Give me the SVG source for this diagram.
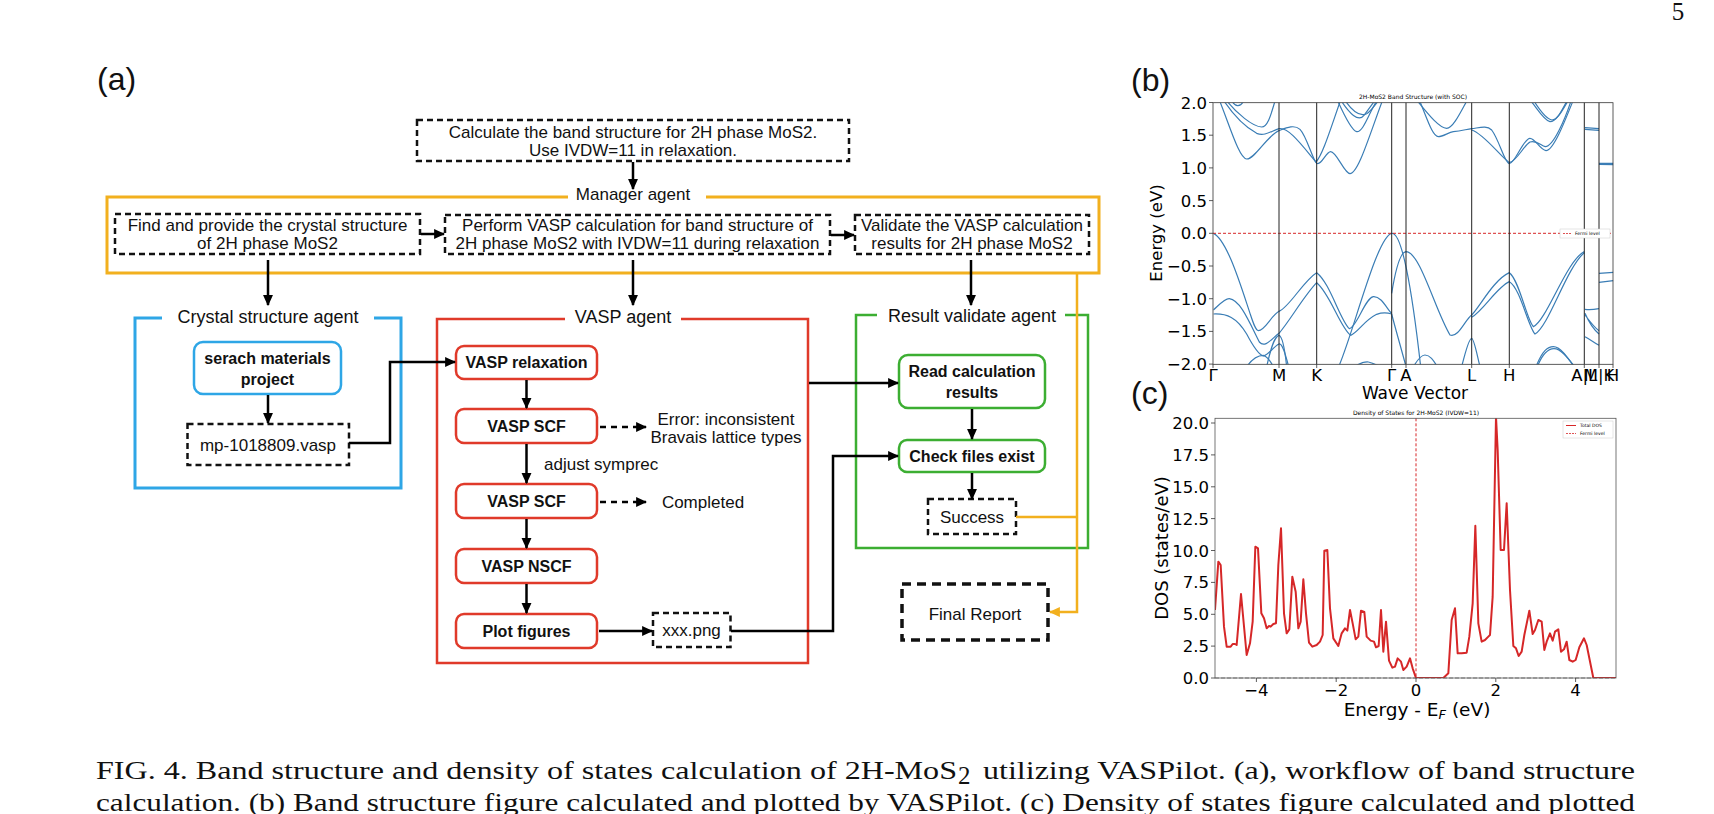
<svg xmlns="http://www.w3.org/2000/svg" width="1714" height="814" viewBox="0 0 1714 814">
<defs>
<style>
.t{font-family:"Liberation Sans",Arial,Helvetica,sans-serif;font-size:17px;fill:#111;text-anchor:middle}
.b{font-weight:bold;font-size:16px}
.lab{font-size:18px}
.pl{font-family:"Liberation Sans",Arial,sans-serif;font-size:32px;fill:#111}
.dash{fill:none;stroke:#111;stroke-width:2.5;stroke-dasharray:6 4}
.arr{fill:none;stroke:#000;stroke-width:2.5;marker-end:url(#ah)}
.darr{fill:none;stroke:#000;stroke-width:2.5;stroke-dasharray:6 5;marker-end:url(#ah)}
.oarr{fill:none;stroke:#f2b01e;stroke-width:2.5}
.rb{fill:#fff;stroke:#e03a2a;stroke-width:2.5}
.gb{fill:#fff;stroke:#3cae32;stroke-width:2.5}
.bb{fill:#fff;stroke:#2ea6e6;stroke-width:2.5}
.m{font-family:"DejaVu Sans",sans-serif;fill:#000}
.tk{font-size:16.5px}
.yl{text-anchor:end}
.xl{text-anchor:middle}
.band{fill:none;stroke:#3a7db5;stroke-width:1.2;vector-effect:non-scaling-stroke}
.vl{stroke:#222;stroke-width:1}
.tick{stroke:#333;stroke-width:0.8}
.cap{font-family:"Liberation Serif","Times New Roman",serif;font-size:25px;fill:#111}
</style>
<marker id="ah" viewBox="0 0 10 10" refX="9" refY="5" markerWidth="11" markerHeight="11" markerUnits="userSpaceOnUse" orient="auto"><path d="M0,0.5 L10,5 L0,9.5 z" fill="#000"/></marker>
<marker id="aho" viewBox="0 0 10 10" refX="9" refY="5" markerWidth="11" markerHeight="11" markerUnits="userSpaceOnUse" orient="auto"><path d="M0,0.5 L10,5 L0,9.5 z" fill="#f2b01e"/></marker>
<clipPath id="clipB"><rect x="340" y="68" width="1200" height="785"/></clipPath>
<clipPath id="clipD"><rect x="345" y="145" width="1203" height="779"/></clipPath>
</defs>
<rect width="1714" height="814" fill="#fff"/>

<text x="1678" y="20" class="cap" font-size="19" text-anchor="middle">5</text>
<text x="97" y="90" class="pl">(a)</text>
<text x="1131" y="91" class="pl">(b)</text>
<text x="1131" y="404" class="pl">(c)</text>

<!-- Flowchart nodes -->
<g id="n-task"><rect x="417" y="120" width="432" height="41" class="dash"/>
<text x="633" y="138" class="t">Calculate the band structure for 2H phase MoS2.</text>
<text x="633" y="156" class="t">Use IVDW=11 in relaxation.</text></g>

<g id="manager-agent"><path d="M568,197 H107 V273 H1099 V197 H706" fill="none" stroke="#f2b01e" stroke-width="3"/>
<text x="633" y="200" class="t">Manager agent</text></g>

<g id="n-find"><rect x="115" y="214" width="305" height="40" class="dash"/>
<text x="267.5" y="231" class="t">Find and provide the crystal structure</text>
<text x="267.5" y="249" class="t">of 2H phase MoS2</text></g>

<g id="n-perform"><rect x="445" y="215" width="385" height="39" class="dash"/>
<text x="637.5" y="231" class="t">Perform VASP calculation for band structure of</text>
<text x="637.5" y="249" class="t">2H phase MoS2 with IVDW=11 during relaxation</text></g>

<g id="n-validate"><rect x="855" y="215" width="234" height="39" class="dash"/>
<text x="972" y="231" class="t">Validate the VASP calculation</text>
<text x="972" y="249" class="t">results for 2H phase MoS2</text></g>

<g id="crystal-agent"><path d="M162,318 H135 V488 H401 V318 H374" fill="none" stroke="#2ea6e6" stroke-width="3"/>
<text x="268" y="323" class="t lab">Crystal structure agent</text></g>

<g id="n-search"><rect x="194" y="342" width="147" height="52" rx="9" class="bb"/>
<text x="267.5" y="364" class="t b">serach materials</text>
<text x="267.5" y="385" class="t b">project</text></g>

<g id="n-mp"><rect x="187.5" y="424" width="161.5" height="41" class="dash"/>
<text x="268" y="451" class="t">mp-1018809.vasp</text></g>

<g id="vasp-agent"><path d="M565,319 H437 V663 H808 V319 H681" fill="none" stroke="#e03a2a" stroke-width="2.5"/>
<text x="623" y="323" class="t lab">VASP agent</text></g>

<g id="n-relax"><rect x="456" y="346" width="141" height="33" rx="8" class="rb"/><text x="526.5" y="368" class="t b">VASP relaxation</text></g>
<g id="n-scf1"><rect x="456" y="409" width="141" height="34" rx="8" class="rb"/><text x="526.5" y="432" class="t b">VASP SCF</text></g>
<g id="n-scf2"><rect x="456" y="484" width="141" height="34" rx="8" class="rb"/><text x="526.5" y="507" class="t b">VASP SCF</text></g>
<g id="n-nscf"><rect x="456" y="549" width="141" height="34" rx="8" class="rb"/><text x="526.5" y="572" class="t b">VASP NSCF</text></g>
<g id="n-plot"><rect x="456" y="614" width="141" height="34" rx="8" class="rb"/><text x="526.5" y="637" class="t b">Plot figures</text></g>

<g id="n-error"><text x="726" y="425" class="t">Error: inconsistent</text><text x="726" y="443" class="t">Bravais lattice types</text></g>
<g id="n-completed"><text x="703" y="508" class="t">Completed</text></g>
<g id="n-xxx"><rect x="653" y="613" width="77.5" height="34" class="dash"/><text x="691.5" y="636" class="t">xxx.png</text></g>

<g id="result-agent"><path d="M877,315 H856 V548 H1088 V315 H1065" fill="none" stroke="#3cae32" stroke-width="2.5"/>
<text x="972" y="322" class="t lab">Result validate agent</text></g>

<g id="n-read"><rect x="899" y="355" width="146" height="53" rx="9" class="gb"/>
<text x="972" y="377" class="t b">Read calculation</text><text x="972" y="398" class="t b">results</text></g>
<g id="n-check"><rect x="899" y="440" width="146" height="32" rx="8" class="gb"/><text x="972" y="462" class="t b">Check files exist</text></g>
<g id="n-success"><rect x="928" y="499" width="88" height="35" class="dash"/><text x="972" y="523" class="t">Success</text></g>
<g id="n-final"><rect x="902" y="584" width="146" height="56" fill="none" stroke="#111" stroke-width="3.5" stroke-dasharray="9 6"/><text x="975" y="620" class="t" font-size="20">Final Report</text></g>

<g id="connectors">
<path d="M633,162 V189" class="arr"/>
<path d="M421,234 H444" class="arr"/>
<path d="M831,235 H854" class="arr"/>
<path d="M268,260 V305" class="arr"/>
<path d="M633,260 V305" class="arr"/>
<path d="M971,260 V305" class="arr"/>
<path d="M268,395 V423" class="arr"/>
<path d="M349,443 H390 V362 H455" class="arr"/>
<path d="M526.5,380 V408" class="arr"/>
<path d="M526.5,444 V483" class="arr"/>
<text x="544" y="470" class="t" style="text-anchor:start">adjust symprec</text>
<path d="M526.5,519 V548" class="arr"/>
<path d="M526.5,584 V613" class="arr"/>
<path d="M600,427 H646" class="darr"/>
<path d="M600,502 H646" class="darr"/>
<path d="M599,631 H652" class="arr"/>
<path d="M731,631 H833 V456 H898" class="arr"/>
<path d="M809,383 H898" class="arr"/>
<path d="M972,409 V439" class="arr"/>
<path d="M972,473 V499" class="arr"/>
<path d="M1016,517 H1077" class="oarr"/>
<path d="M1077,273 V612 H1050" class="oarr" marker-end="url(#aho)"/>
</g>

<!-- (b) band structure -->
<g id="band-plot">
<text x="1413" y="99" class="m" font-size="6" text-anchor="middle" fill="#333">2H-MoS2 Band Structure (with SOC)</text>
<g transform="translate(1100,80) scale(0.3333333)">
<g clip-path="url(#clipB)">
<path class="band" d="M358,60 C390,140 418,236 440,237 C465,238 500,168 537,152 C560,143 583,133 600,148 C620,168 638,240 650,250 C664,258 678,215 692,215 C710,215 733,281 750,281 C775,281 810,160 848,60"/>
<path class="band" d="M370,60 C400,105 430,138 470,160 C495,170 515,152 537,146 C565,140 605,195 648,246 C668,225 692,145 722,60"/>
<path class="band" d="M378,60 C410,100 458,140 485,141 C505,141 515,95 526,60"/>
<path class="band" d="M395,62 C405,80 420,84 432,62"/>
<path class="band" d="M712,60 C738,118 756,152 770,155 C790,158 808,95 832,60"/>
<path class="band" d="M722,60 C748,100 775,128 792,106 C806,88 818,70 826,60"/>
<path class="band" d="M734,60 C760,98 782,110 800,101 C815,92 826,72 838,60"/>
<path class="band" d="M950,60 C990,110 1020,145 1040,145 C1060,145 1085,90 1102,60"/>
<path class="band" d="M958,60 C983,120 998,170 1015,170 C1030,170 1045,157 1060,155 C1085,152 1100,148 1115,146 C1140,143 1160,136 1175,150 C1198,180 1214,250 1228,251 C1245,251 1270,175 1290,175 C1306,175 1320,210 1338,212 C1360,212 1392,130 1420,60"/>
<path class="band" d="M1115,150 C1150,160 1200,228 1228,248 C1250,244 1270,198 1290,186 C1310,180 1322,196 1336,200 C1360,200 1395,118 1414,60"/>
<path class="band" d="M1290,60 C1310,82 1330,120 1350,125 C1370,125 1386,90 1402,60"/>
<path class="band" d="M1300,60 C1320,92 1340,118 1356,120 C1376,118 1390,84 1406,60"/>
<path class="band" d="M1455,143 L1497,146 M1455,148 L1497,151 M1497,250 L1540,250 M1497,253 L1540,254"/>
<path class="band" d="M340,460 C380,478 420,610 450,700 C460,730 467,752 475,752 C495,752 515,705 537,694 C570,680 610,602 650,578 C690,608 720,720 748,746 C770,742 795,655 820,650 C845,648 862,690 875,700"/>
<path class="band" d="M340,690 C360,672 375,655 388,656 C420,660 445,720 478,786 C495,806 515,776 537,760 C570,722 610,650 650,608 C690,640 720,742 752,766 C775,756 792,722 830,703 C850,696 865,699 875,702"/>
<path class="band" d="M340,702 C380,700 410,712 440,762 C460,800 478,825 490,828 C505,826 520,800 537,792 C546,788 556,822 566,860"/>
<path class="band" d="M440,860 C460,832 475,826 490,826 C505,830 512,846 520,860"/>
<path class="band" d="M500,860 C515,792 525,770 537,766 C550,770 556,822 560,860"/>
<path class="band" d="M716,860 C760,760 830,470 875,460 C905,455 935,620 962,860"/>
<path class="band" d="M875,640 C888,560 903,516 918,515 C960,515 1005,690 1050,765 C1075,775 1096,718 1115,705"/>
<path class="band" d="M875,702 C890,760 905,810 918,860"/>
<path class="band" d="M1115,705 C1140,680 1180,600 1228,578 C1258,600 1280,720 1300,740 C1340,722 1400,540 1453,515"/>
<path class="band" d="M1115,712 C1150,692 1190,622 1228,605 C1260,622 1285,742 1305,762 C1345,742 1400,562 1453,518"/>
<path class="band" d="M1085,860 C1100,800 1110,775 1115,775 C1122,775 1130,820 1140,860"/>
<path class="band" d="M1308,860 C1328,810 1344,800 1360,800 C1380,800 1400,828 1422,860"/>
<path class="band" d="M1312,860 C1330,815 1346,806 1362,806 C1382,806 1402,832 1424,860"/>
<path class="band" d="M940,860 C955,835 965,825 975,825 C990,825 1000,840 1012,860"/>
<path class="band" d="M770,856 C785,848 795,845 805,846 C815,848 822,851 832,856"/>
<path class="band" d="M1455,688 C1470,690 1485,688 1497,686 M1455,700 C1470,735 1485,752 1497,762 M1455,770 C1470,778 1485,790 1497,796 M1455,705 C1470,725 1485,745 1497,752 M1497,580 L1540,577 M1497,607 L1540,602"/>
</g>
</g>
<line x1="1213" y1="233.3" x2="1613" y2="233.3" stroke="#d62728" stroke-width="1" stroke-dasharray="3 2"/>
<g class="vl">
<line x1="1279" y1="102.7" x2="1279" y2="364.3"/><line x1="1316.7" y1="102.7" x2="1316.7" y2="364.3"/>
<line x1="1391.7" y1="102.7" x2="1391.7" y2="364.3"/><line x1="1406" y1="102.7" x2="1406" y2="364.3"/>
<line x1="1471.7" y1="102.7" x2="1471.7" y2="364.3"/><line x1="1509.3" y1="102.7" x2="1509.3" y2="364.3"/>
<line x1="1584.3" y1="102.7" x2="1584.3" y2="364.3"/><line x1="1599" y1="102.7" x2="1599" y2="364.3"/>
</g>
<rect x="1213" y="102.7" width="400" height="261.6" fill="none" stroke="#333" stroke-width="0.8"/>
<rect x="1560" y="229" width="50" height="9" fill="#fff" stroke="#ccc" stroke-width="0.5"/>
<line x1="1563" y1="233.5" x2="1572" y2="233.5" stroke="#d62728" stroke-width="0.8" stroke-dasharray="2 1"/>
<text x="1575" y="235" class="m" font-size="4.5">Fermi level</text>
<g class="tick">
<path d="M1209,102.5H1213M1209,135.2H1213M1209,167.9H1213M1209,200.6H1213M1209,233.3H1213M1209,266H1213M1209,298.7H1213M1209,331.4H1213M1209,364.1H1213"/>
<path d="M1213,364.3V368M1279,364.3V368M1316.7,364.3V368M1391.7,364.3V368M1406,364.3V368M1471.7,364.3V368M1509.3,364.3V368M1584.3,364.3V368M1599,364.3V368M1613,364.3V368"/>
</g>
<g class="m tk yl">
<text x="1207" y="108.5">2.0</text><text x="1207" y="141.2">1.5</text><text x="1207" y="173.9">1.0</text>
<text x="1207" y="206.6">0.5</text><text x="1207" y="239.3">0.0</text><text x="1207" y="272">−0.5</text>
<text x="1207" y="304.7">−1.0</text><text x="1207" y="337.4">−1.5</text><text x="1207" y="370.1">−2.0</text>
</g>
<g class="m tk xl">
<text x="1213" y="381">Γ</text><text x="1279" y="381">M</text><text x="1316.7" y="381">K</text>
<text x="1391.7" y="381">Γ</text><text x="1406" y="381">A</text><text x="1471.7" y="381">L</text>
<text x="1509.3" y="381">H</text><text x="1584.3" y="381">A|L</text><text x="1599" y="381">M|K</text><text x="1613" y="381">H</text>
</g>
<text x="1415" y="399" class="m" font-size="17" text-anchor="middle">Wave Vector</text>
<text transform="translate(1162,233) rotate(-90)" class="m" font-size="16.5" text-anchor="middle">Energy (eV)</text>
</g>

<!-- (c) DOS -->
<g id="dos-plot">
<text x="1416" y="415" class="m" font-size="6" text-anchor="middle" fill="#333">Density of States for 2H-MoS2 (IVDW=11)</text>
<line x1="1215" y1="678" x2="1616" y2="678" stroke="#888" stroke-width="1" stroke-dasharray="4 2"/>
<g transform="translate(1100,370) scale(0.3333333)">
<g clip-path="url(#clipD)">
<polyline fill="none" stroke="#d62728" stroke-width="2" vector-effect="non-scaling-stroke" stroke-linejoin="round" points="345,720 355,575 362,585 372,770 380,830 392,830 398,822 405,822 410,825 423,672 440,855 450,820 458,755 466,530 474,535 484,730 492,745 500,775 507,768 512,770 520,762 528,760 535,585 543,475 552,730 560,790 568,778 577,620 587,665 595,775 602,755 610,628 618,730 627,818 637,830 650,825 660,815 668,795 673,542 682,540 690,715 700,805 715,828 725,790 735,775 742,782 750,720 758,760 767,808 775,800 783,722 793,726 800,800 812,812 822,815 828,832 836,828 843,720 850,845 858,755 867,872 877,893 885,890 893,865 903,875 910,900 920,890 930,865 938,895 948,924 1030,924 1045,910 1055,750 1065,715 1073,850 1085,850 1100,848 1108,800 1118,700 1126,467 1135,760 1145,815 1155,810 1165,800 1170,795 1178,680 1188,140 1193,240 1202,540 1212,540 1220,400 1230,660 1240,828 1248,835 1256,858 1265,845 1273,795 1288,722 1298,792 1305,780 1315,750 1325,755 1333,840 1340,815 1350,790 1358,812 1365,785 1375,778 1383,845 1392,838 1400,815 1408,870 1418,875 1427,870 1438,832 1452,805 1460,825 1480,924 1548,924"/>
</g>
</g>
<line x1="1416" y1="418.3" x2="1416" y2="678" stroke="#d62728" stroke-width="1" stroke-dasharray="3 2"/>
<rect x="1215" y="418.3" width="401" height="259.7" fill="none" stroke="#555" stroke-width="0.8"/>
<rect x="1563" y="421" width="50" height="17" fill="#fff" stroke="#ccc" stroke-width="0.5"/>
<line x1="1566" y1="425.5" x2="1576" y2="425.5" stroke="#d62728" stroke-width="1"/>
<text x="1580" y="427" class="m" font-size="4.5">Total DOS</text>
<line x1="1566" y1="433.5" x2="1576" y2="433.5" stroke="#d62728" stroke-width="0.8" stroke-dasharray="2 1"/>
<text x="1580" y="435" class="m" font-size="4.5">Fermi level</text>
<g class="tick">
<path d="M1211,678H1215M1211,646.1H1215M1211,614.3H1215M1211,582.4H1215M1211,550.5H1215M1211,518.6H1215M1211,486.8H1215M1211,454.9H1215M1211,423H1215"/>
<path d="M1256.4,678V682M1336.2,678V682M1416,678V682M1495.8,678V682M1575.6,678V682"/>
</g>
<g class="m tk yl">
<text x="1209" y="684">0.0</text><text x="1209" y="652.1">2.5</text><text x="1209" y="620.3">5.0</text>
<text x="1209" y="588.4">7.5</text><text x="1209" y="556.5">10.0</text><text x="1209" y="524.6">12.5</text>
<text x="1209" y="492.8">15.0</text><text x="1209" y="460.9">17.5</text><text x="1209" y="429">20.0</text>
</g>
<g class="m tk xl">
<text x="1256.4" y="696">−4</text><text x="1336.2" y="696">−2</text><text x="1416" y="696">0</text>
<text x="1495.8" y="696">2</text><text x="1575.6" y="696">4</text>
</g>
<text x="1417" y="716" class="m" font-size="18.5" text-anchor="middle">Energy - E<tspan font-size="13" font-style="italic" dy="3">F</tspan><tspan dy="-3"> (eV)</tspan></text>
<text transform="translate(1168,548) rotate(-90)" class="m" font-size="18" text-anchor="middle">DOS (states/eV)</text>
</g>

<!-- caption -->
<g id="caption">
<text x="96" y="779" class="cap" textLength="861" lengthAdjust="spacingAndGlyphs">FIG. 4.  Band structure and density of states calculation of 2H-MoS</text>
<text x="958" y="784" class="cap" font-size="17">2</text>
<text x="983" y="779" class="cap" textLength="652" lengthAdjust="spacingAndGlyphs">utilizing VASPilot.  (a), workflow of band structure</text>
<text x="96" y="811" class="cap" textLength="1539" lengthAdjust="spacingAndGlyphs">calculation. (b) Band structure figure calculated and plotted by VASPilot. (c) Density of states figure calculated and plotted</text>
</g>
</svg>
